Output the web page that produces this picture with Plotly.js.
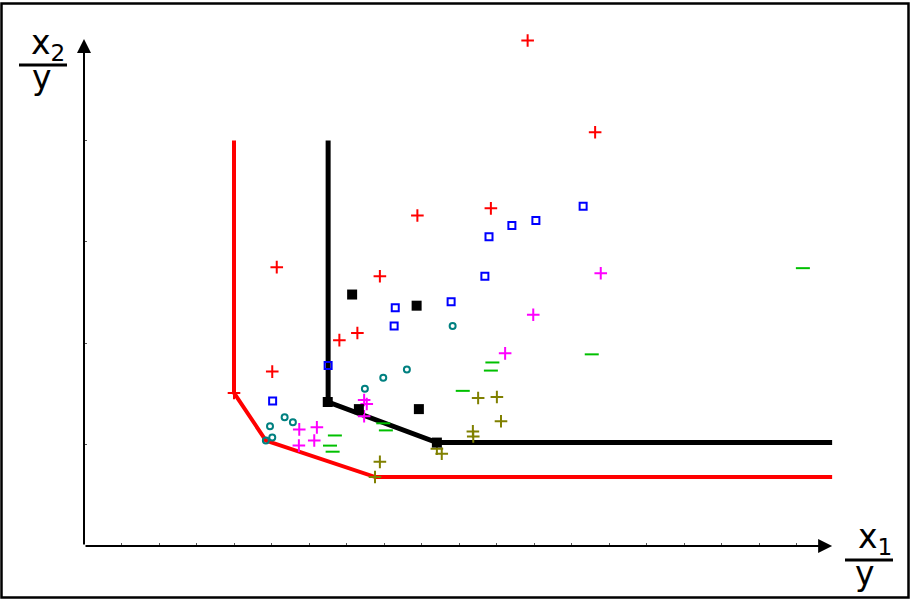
<!DOCTYPE html>
<html>
<head>
<meta charset="utf-8">
<script src="https://cdn.plot.ly/plotly-3.0.1.min.js"></script>
<style>
  html, body { margin: 0; padding: 0; background: #fff; }
  #chart { width: 910px; height: 599px; }
</style>
</head>
<body>
<div id="chart"></div>
<script>
// ---- data (axis units: x1/y and x2/y) ----
const redFrontX   = [4.0, 4.0, 4.85, 7.77, 19.95];
const redFrontY   = [4.0, 1.51, 1.04, 0.68, 0.68];
const blackFrontX = [6.51, 6.51, 9.41, 19.95];
const blackFrontY = [4.0, 1.42, 1.02, 1.02];

const redPlusX = [11.83, 13.63, 10.85, 8.89, 5.14, 7.89, 7.29, 6.81, 5.02, 4.00];
const redPlusY = [4.985, 4.08, 3.33, 3.26, 2.75, 2.66, 2.10, 2.03, 1.72, 1.51];

const blueSqX = [13.31, 12.05, 11.41, 10.80, 10.69, 9.79, 8.30, 8.27, 6.51, 5.03];
const blueSqY = [3.35, 3.21, 3.16, 3.05, 2.66, 2.41, 2.35, 2.17, 1.78, 1.43];

const tealCircX = [9.83, 8.61, 7.98, 7.49, 5.35, 5.57, 4.96, 5.02, 4.85];
const tealCircY = [2.17, 1.74, 1.66, 1.55, 1.27, 1.22, 1.18, 1.07, 1.04];

const magentaX = [13.78, 11.98, 11.23, 7.47, 7.54, 7.47, 6.21, 5.74, 6.14, 5.73];
const magentaY = [2.69, 2.28, 1.90, 1.44, 1.40, 1.28, 1.17, 1.15, 1.04, 0.99];

const greenDashX = [19.17, 13.54, 10.89, 10.85, 10.10, 7.98, 8.05, 6.69, 6.56, 6.63];
const greenDashY = [2.74, 1.89, 1.81, 1.73, 1.53, 1.21, 1.14, 1.09, 0.99, 0.93];

const olivePlusX = [10.51, 11.01, 11.12, 10.37, 10.38, 9.41, 9.54, 7.89, 7.76];
const olivePlusY = [1.46, 1.47, 1.23, 1.13, 1.08, 0.96, 0.91, 0.83, 0.68];

const blackSqX = [6.50, 7.33, 8.93, 9.41, 7.15, 8.87];
const blackSqY = [1.42, 1.35, 1.35, 1.02, 2.48, 2.37];

const xTickVals = [1, 2, 3, 4, 5, 6, 7, 8, 9, 10, 11, 12, 13, 14, 15, 16, 17, 18, 19];
const yTickVals = [1, 2, 3, 4];

const xTitleTop = 'x<sub>1</sub>';
const yTitleTop = 'x<sub>2</sub>';
const denomText = 'y';

// ---- layout geometry helpers ----
const W = 910, H = 599;
const M = {l: 84, r: 76, t: 39, b: 53};
const PW = W - M.l - M.r, PH = H - M.t - M.b;
const pxX = px => (px - M.l) / PW;          // pixel -> paper x
const pxY = py => (H - M.b - py) / PH;      // pixel -> paper y

function markerTrace(x, y, symbol, color, size, lw) {
  return {
    x: x, y: y, type: 'scatter', mode: 'markers', hoverinfo: 'skip',
    marker: {symbol: symbol, size: size, color: color,
             line: {color: color, width: lw}},
    cliponaxis: false
  };
}

const traces = [
  {x: redFrontX, y: redFrontY, type: 'scatter', mode: 'lines',
   line: {color: '#ff0000', width: 4}, hoverinfo: 'skip', cliponaxis: false},
  {x: blackFrontX, y: blackFrontY, type: 'scatter', mode: 'lines',
   line: {color: '#000000', width: 5}, hoverinfo: 'skip', cliponaxis: false},
  markerTrace(redPlusX, redPlusY, 'cross-thin-open', '#ff0000', 9, 2),
  markerTrace(blueSqX, blueSqY, 'square-open', '#0000ff', 7, 2),
  markerTrace(tealCircX, tealCircY, 'circle-open', '#008080', 6, 2),
  markerTrace(magentaX, magentaY, 'cross-thin-open', '#ff00ff', 9, 2),
  markerTrace(greenDashX, greenDashY, 'line-ew-open', '#00c000', 10, 2),
  markerTrace(olivePlusX, olivePlusY, 'cross-thin-open', '#808000', 9, 2),
  markerTrace(blackSqX, blackSqY, 'square', '#000000', 10, 0)
];

const titleFont = {family: 'DejaVu Sans, sans-serif', size: 33, color: '#000'};

const layout = {
  width: W, height: H,
  margin: M,
  paper_bgcolor: '#ffffff', plot_bgcolor: '#ffffff',
  showlegend: false,
  xaxis: {range: [0, 20], showgrid: false, zeroline: false, showline: false,
          ticks: 'inside', ticklen: 3, tickwidth: 1, tickcolor: '#555',
          tickmode: 'array', tickvals: xTickVals, showticklabels: false,
          fixedrange: true},
  yaxis: {range: [0, 5], showgrid: false, zeroline: false, showline: false,
          ticks: 'inside', ticklen: 3, tickwidth: 1, tickcolor: '#555',
          tickmode: 'array', tickvals: yTickVals, showticklabels: false,
          fixedrange: true},
  shapes: [
    // figure border
    {type: 'rect', xref: 'paper', yref: 'paper',
     x0: pxX(1.5), x1: pxX(908.5), y0: pxY(597.5), y1: pxY(3.5),
     line: {color: '#000', width: 2.5}, fillcolor: 'rgba(0,0,0,0)'},
    // fraction bars
    {type: 'line', xref: 'paper', yref: 'paper',
     x0: pxX(19), x1: pxX(67), y0: pxY(65), y1: pxY(65),
     line: {color: '#000', width: 3}},
    {type: 'line', xref: 'paper', yref: 'paper',
     x0: pxX(845), x1: pxX(893), y0: pxY(560), y1: pxY(560),
     line: {color: '#000', width: 3}}
  ],
  annotations: [
    // axes with arrow heads
    {xref: 'x', yref: 'y', axref: 'x', ayref: 'y', x: 19.95, y: 0, ax: 0, ay: 0,
     showarrow: true, arrowhead: 2, arrowsize: 1.4, arrowwidth: 2,
     arrowcolor: '#000', text: '', standoff: 0},
    {xref: 'x', yref: 'y', axref: 'x', ayref: 'y', x: 0, y: 5.0, ax: 0, ay: 0,
     showarrow: true, arrowhead: 2, arrowsize: 1.4, arrowwidth: 2,
     arrowcolor: '#000', text: '', standoff: 0},
    // axis titles as fractions
    {xref: 'paper', yref: 'paper', x: pxX(48), y: pxY(44), text: yTitleTop,
     showarrow: false, xanchor: 'center', yanchor: 'middle', font: titleFont},
    {xref: 'paper', yref: 'paper', x: pxX(42), y: pxY(78), text: denomText,
     showarrow: false, xanchor: 'center', yanchor: 'middle', font: titleFont},
    {xref: 'paper', yref: 'paper', x: pxX(875), y: pxY(538), text: xTitleTop,
     showarrow: false, xanchor: 'center', yanchor: 'middle', font: titleFont},
    {xref: 'paper', yref: 'paper', x: pxX(865), y: pxY(573), text: denomText,
     showarrow: false, xanchor: 'center', yanchor: 'middle', font: titleFont}
  ]
};

Plotly.newPlot('chart', traces, layout, {displayModeBar: false, staticPlot: true});
</script>
</body>
</html>
